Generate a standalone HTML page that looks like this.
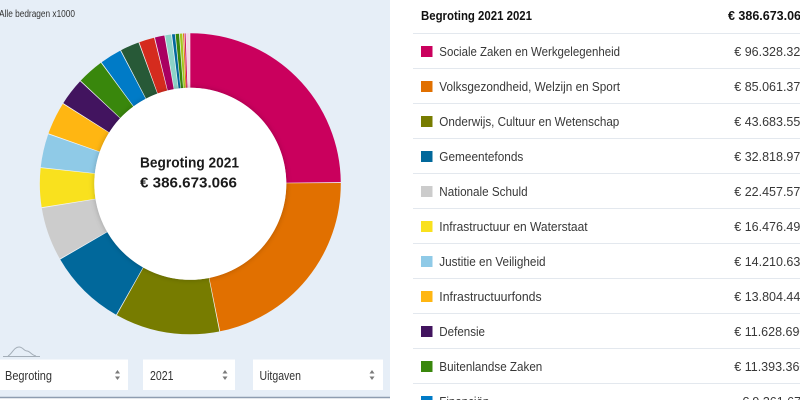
<!DOCTYPE html>
<html>
<head>
<meta charset="utf-8">
<style>
  html,body{margin:0;padding:0;width:800px;height:400px;overflow:hidden;background:#fff;}
  svg{display:block;}
  text{font-family:"Liberation Sans", Arial, sans-serif;}
</style>
</head>
<body>
<svg width="800" height="400" viewBox="0 0 800 400" xmlns="http://www.w3.org/2000/svg">
  <defs>
    <filter id="sh" x="-30%" y="-30%" width="160%" height="160%">
      <feDropShadow dx="0" dy="0" stdDeviation="3" flood-color="#000" flood-opacity="0.22"/>
    </filter>
  </defs>
  <rect x="0" y="0" width="800" height="400" fill="#ffffff"/>
  <!-- left panel -->
  <rect x="0" y="0" width="390" height="397" fill="#e6eef7"/>
  <line x1="0" y1="397.5" x2="390" y2="397.5" stroke="#8e9db0" stroke-width="1.5"/>
  <text x="-1" y="16.8" font-size="10" fill="#333" textLength="76" lengthAdjust="spacingAndGlyphs">Alle bedragen x1000</text>

  <!-- donut -->
  <g transform="rotate(-90 190.3 183.8)" fill="none" stroke-width="54.5">
    <circle cx="190.3" cy="183.8" r="123.25" stroke="#f2f5f8"/>
    <circle cx="190.3" cy="183.8" r="123.25" pathLength="1000" stroke="#ca005d" stroke-dasharray="248.22 2000" stroke-dashoffset="0"/>
    <circle cx="190.3" cy="183.8" r="123.25" pathLength="1000" stroke="#e17000" stroke-dasharray="219.08 2000" stroke-dashoffset="-249.12"/>
    <circle cx="190.3" cy="183.8" r="123.25" pathLength="1000" stroke="#777c00" stroke-dasharray="112.07 2000" stroke-dashoffset="-469.10"/>
    <circle cx="190.3" cy="183.8" r="123.25" pathLength="1000" stroke="#01689b" stroke-dasharray="83.98 2000" stroke-dashoffset="-582.07"/>
    <circle cx="190.3" cy="183.8" r="123.25" pathLength="1000" stroke="#cccccc" stroke-dasharray="57.18 2000" stroke-dashoffset="-666.95"/>
    <circle cx="190.3" cy="183.8" r="123.25" pathLength="1000" stroke="#f9e11e" stroke-dasharray="41.71 2000" stroke-dashoffset="-725.03"/>
    <circle cx="190.3" cy="183.8" r="123.25" pathLength="1000" stroke="#8fcae7" stroke-dasharray="35.85 2000" stroke-dashoffset="-767.64"/>
    <circle cx="190.3" cy="183.8" r="123.25" pathLength="1000" stroke="#ffb612" stroke-dasharray="34.80 2000" stroke-dashoffset="-804.39"/>
    <circle cx="190.3" cy="183.8" r="123.25" pathLength="1000" stroke="#42145f" stroke-dasharray="29.17 2000" stroke-dashoffset="-840.09"/>
    <circle cx="190.3" cy="183.8" r="123.25" pathLength="1000" stroke="#39870c" stroke-dasharray="28.57 2000" stroke-dashoffset="-870.16"/>
    <circle cx="190.3" cy="183.8" r="123.25" pathLength="1000" stroke="#007bc7" stroke-dasharray="23.31 2000" stroke-dashoffset="-899.63"/>
    <circle cx="190.3" cy="183.8" r="123.25" pathLength="1000" stroke="#275937" stroke-dasharray="20.21 2000" stroke-dashoffset="-923.84"/>
    <circle cx="190.3" cy="183.8" r="123.25" pathLength="1000" stroke="#d52b1e" stroke-dasharray="16.32 2000" stroke-dashoffset="-944.95"/>
    <circle cx="190.3" cy="183.8" r="123.25" pathLength="1000" stroke="#a90061" stroke-dasharray="10.21 2000" stroke-dashoffset="-962.17"/>
    <circle cx="190.3" cy="183.8" r="123.25" pathLength="1000" stroke="#8dd3c7" stroke-dasharray="6.32 2000" stroke-dashoffset="-973.28"/>
    <circle cx="190.3" cy="183.8" r="123.25" pathLength="1000" stroke="#01689b" stroke-dasharray="3.09 2000" stroke-dashoffset="-980.50"/>
    <circle cx="190.3" cy="183.8" r="123.25" pathLength="1000" stroke="#39870c" stroke-dasharray="3.64 2000" stroke-dashoffset="-984.39"/>
    <circle cx="190.3" cy="183.8" r="123.25" pathLength="1000" stroke="#a3c71f" stroke-dasharray="2.63 2000" stroke-dashoffset="-988.83"/>
    <circle cx="190.3" cy="183.8" r="123.25" pathLength="1000" stroke="#e17000" stroke-dasharray="1.17 2000" stroke-dashoffset="-992.16"/>
    <circle cx="190.3" cy="183.8" r="123.25" pathLength="1000" stroke="#ca005d" stroke-dasharray="1.17 2000" stroke-dashoffset="-993.83"/>
    <circle cx="190.3" cy="183.8" r="123.25" pathLength="1000" stroke="#f3d6e4" stroke-dasharray="3.84 2000" stroke-dashoffset="-995.50"/>
  </g>
  <circle cx="190.3" cy="183.8" r="96" fill="#ffffff" filter="url(#sh)"/>
  <text x="189.5" y="167.7" font-size="15" font-weight="bold" fill="#1a1a1a" text-anchor="middle" textLength="99" lengthAdjust="spacingAndGlyphs">Begroting 2021</text>
  <text x="188.5" y="187.7" font-size="15" font-weight="bold" fill="#1a1a1a" text-anchor="middle" textLength="97" lengthAdjust="spacingAndGlyphs">€ 386.673.066</text>

  <!-- small wave icon -->
  <g fill="none" stroke="#a4aeb8" stroke-width="1">
    <path d="M3 356.5 L40 356.5"/>
    <path d="M8 356 C12 354 14 347 19 347 C23 347 24 351 27 351 C30 351 31 355 36 356"/>
  </g>

  <!-- dropdowns -->
  <rect x="0" y="359.5" width="128" height="30.5" fill="#ffffff"/>
  <rect x="143" y="359.5" width="92" height="30.5" fill="#ffffff"/>
  <rect x="253" y="359.5" width="130" height="30.5" fill="#ffffff"/>
  <text x="5" y="380" font-size="12.5" fill="#333" textLength="47" lengthAdjust="spacingAndGlyphs">Begroting</text>
  <text x="150" y="380" font-size="12.5" fill="#333" textLength="23.5" lengthAdjust="spacingAndGlyphs">2021</text>
  <text x="259.5" y="380" font-size="12.5" fill="#333" textLength="41.5" lengthAdjust="spacingAndGlyphs">Uitgaven</text>
  <g fill="#7a7a7a">
    <path d="M115 373.5 L117.5 370 L120 373.5 Z"/>
    <path d="M115 376.5 L117.5 380 L120 376.5 Z"/>
    <path d="M222.5 373.5 L225 370 L227.5 373.5 Z"/>
    <path d="M222.5 376.5 L225 380 L227.5 376.5 Z"/>
    <path d="M369.5 373.5 L372 370 L374.5 373.5 Z"/>
    <path d="M369.5 376.5 L372 380 L374.5 376.5 Z"/>
  </g>

  <!-- right table -->
  <text x="421" y="20" font-size="12.5" font-weight="bold" fill="#111" textLength="111" lengthAdjust="spacingAndGlyphs">Begroting 2021 2021</text>
  <text x="728" y="20" font-size="12.5" font-weight="bold" fill="#111">€ 386.673.066</text>

  <g stroke="#e3e8ee" stroke-width="1">
    <line x1="413" y1="33.5" x2="800" y2="33.5"/>
    <line x1="413" y1="68.5" x2="800" y2="68.5"/>
    <line x1="413" y1="103.5" x2="800" y2="103.5"/>
    <line x1="413" y1="138.5" x2="800" y2="138.5"/>
    <line x1="413" y1="173.5" x2="800" y2="173.5"/>
    <line x1="413" y1="208.5" x2="800" y2="208.5"/>
    <line x1="413" y1="243.5" x2="800" y2="243.5"/>
    <line x1="413" y1="278.5" x2="800" y2="278.5"/>
    <line x1="413" y1="313.5" x2="800" y2="313.5"/>
    <line x1="413" y1="348.5" x2="800" y2="348.5"/>
    <line x1="413" y1="383.5" x2="800" y2="383.5"/>
  </g>

  <rect x="421" y="46" width="11.5" height="11" fill="#ca005d"/>
  <rect x="421" y="81" width="11.5" height="11" fill="#e17000"/>
  <rect x="421" y="116" width="11.5" height="11" fill="#777c00"/>
  <rect x="421" y="151" width="11.5" height="11" fill="#01689b"/>
  <rect x="421" y="186" width="11.5" height="11" fill="#cccccc"/>
  <rect x="421" y="221" width="11.5" height="11" fill="#f9e11e"/>
  <rect x="421" y="256" width="11.5" height="11" fill="#8fcae7"/>
  <rect x="421" y="291" width="11.5" height="11" fill="#ffb612"/>
  <rect x="421" y="326" width="11.5" height="11" fill="#42145f"/>
  <rect x="421" y="361" width="11.5" height="11" fill="#39870c"/>
  <rect x="421" y="396" width="11.5" height="11" fill="#007bc7"/>

  <g font-size="12.5" fill="#383838">
    <text x="439.3" y="56" textLength="180.7" lengthAdjust="spacingAndGlyphs">Sociale Zaken en Werkgelegenheid</text>
    <text x="439.3" y="91" textLength="180.7" lengthAdjust="spacingAndGlyphs">Volksgezondheid, Welzijn en Sport</text>
    <text x="439.3" y="126" textLength="180" lengthAdjust="spacingAndGlyphs">Onderwijs, Cultuur en Wetenschap</text>
    <text x="439.3" y="161" textLength="84" lengthAdjust="spacingAndGlyphs">Gemeentefonds</text>
    <text x="439.3" y="196" textLength="88.3" lengthAdjust="spacingAndGlyphs">Nationale Schuld</text>
    <text x="439.3" y="231" textLength="148.3" lengthAdjust="spacingAndGlyphs">Infrastructuur en Waterstaat</text>
    <text x="439.3" y="266" textLength="106.3" lengthAdjust="spacingAndGlyphs">Justitie en Veiligheid</text>
    <text x="439.3" y="301" textLength="102.3" lengthAdjust="spacingAndGlyphs">Infrastructuurfonds</text>
    <text x="439.3" y="336" textLength="45.7" lengthAdjust="spacingAndGlyphs">Defensie</text>
    <text x="439.3" y="371" textLength="103" lengthAdjust="spacingAndGlyphs">Buitenlandse Zaken</text>
    <text x="439.3" y="406" textLength="50" lengthAdjust="spacingAndGlyphs">Financiën</text>

    <text x="734.3" y="56">€ 96.328.324</text>
    <text x="734.3" y="91">€ 85.061.377</text>
    <text x="734.3" y="126">€ 43.683.557</text>
    <text x="734.3" y="161">€ 32.818.978</text>
    <text x="734.3" y="196">€ 22.457.577</text>
    <text x="734.3" y="231">€ 16.476.499</text>
    <text x="734.3" y="266">€ 14.210.633</text>
    <text x="734.3" y="301">€ 13.804.440</text>
    <text x="734.3" y="336">€ 11.628.690</text>
    <text x="734.3" y="371">€ 11.393.360</text>
    <text x="742" y="406">€ 9.361.670</text>
  </g>
</svg>
</body>
</html>
